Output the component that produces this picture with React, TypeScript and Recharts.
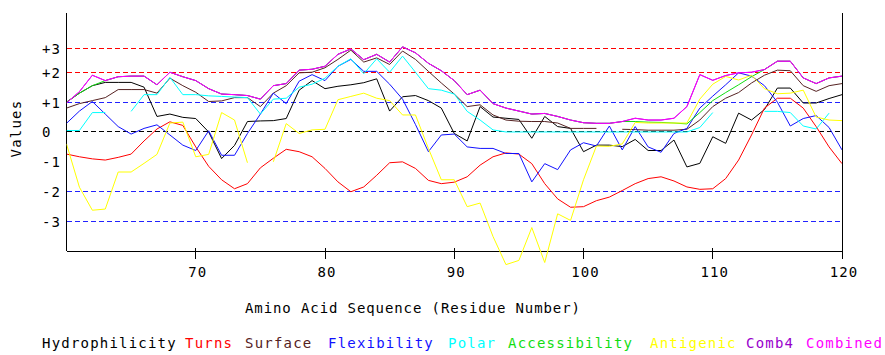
import React from 'react';
import { LineChart, Line, XAxis, YAxis, ReferenceLine } from 'recharts';

const residues = [
  60, 61, 62, 63, 64, 65, 66, 67, 68, 69,
  70, 71, 72, 73, 74, 75, 76, 77, 78, 79,
  80, 81, 82, 83, 84, 85, 86, 87, 88, 89,
  90, 91, 92, 93, 94, 95, 96, 97, 98, 99,
  100, 101, 102, 103, 104, 105, 106, 107, 108, 109,
  110, 111, 112, 113, 114, 115, 116, 117, 118, 119,
  120,
];

const hydrophilicity = [
  1.0, 1.3, 1.55, 1.66, 1.66, 1.66, 1.5, 0.52, 0.6, 0.49,
  0.45, 0.0, -0.89, -0.45, 0.35, 0.37, 0.38, 0.45, 1.4, 1.72,
  1.45, 1.53, 1.58, 1.65, 1.78, 0.7, 1.18, 1.22, 1.05, 0.8,
  -0.05, -0.3, 0.85, 0.5, 0.46, 0.42, -0.21, 0.52, 0.18, 0.12,
  -0.66, -0.44, -0.44, -0.49, -0.25, -0.62, -0.62, -0.27, -1.17, -1.05,
  -0.16, -0.38, 0.63, 0.4, 0.75, 1.47, 1.47, 0.97, 0.97, 1.12,
  1.25,
];

const turns = [
  -0.74, -0.83, -0.9, -0.94, -0.85, -0.74, -0.3, 0.1, 0.34, 0.22,
  -0.5, -1.15, -1.6, -1.9, -1.73, -1.2, -0.88, -0.58, -0.66, -0.83,
  -1.22, -1.67, -2.0, -1.84, -1.45, -1.03, -1.0, -1.22, -1.62, -1.73,
  -1.68, -1.5, -1.11, -0.83, -0.7, -0.74, -1.06, -1.73, -2.24, -2.52,
  -2.5, -2.3, -2.18, -1.96, -1.73, -1.56, -1.5, -1.64, -1.84, -1.92,
  -1.9, -1.56, -0.94, -0.1, 0.8, 1.13, 1.13, 0.8, 0.18, -0.5,
  -1.06,
];

const surface = [
  0.8, 0.95, 1.05, 1.15, 1.42, 1.42, 1.42, 1.3, 1.8, 1.55,
  1.33, 1.02, 1.04, 1.15, 1.15, 0.85, 1.3, 1.55, 1.98, 2.0,
  2.15, 2.43, 2.74, 2.34, 2.48, 2.26, 2.71, 2.43, 2.03, 1.64,
  1.27, 0.85, 0.91, 0.57, 0.4, 0.36, 0.35, 0.35, 0.3, 0.12,
  0.12, 0.12, null, 0.09, 0.08, 0.06, 0.06, 0.06, 0.09, 0.4,
  0.85, 1.13, 1.32, 1.64, 1.9, 2.07, 2.05, 1.55, 1.36, 1.55,
  1.62,
];

const flexibility = [
  0.29, 0.7, 1.02, 0.6, 0.18, -0.07, 0.12, 0.24, -0.1, -0.44,
  -0.62, 0.04, -0.78, -0.78, -0.05, 0.6, 1.3, 0.95, 1.7, 1.92,
  1.72, 2.2, 2.43, 2.03, 2.03, 1.6, 1.1, 0.25, -0.66, -0.1,
  -0.07, -0.5, -0.55, -0.55, -0.72, -0.72, -1.67, -1.06, -1.26, -0.6,
  -0.36, -0.47, 0.2, -0.6, 0.18, -0.5, -0.68, -0.05, 0.12, 0.8,
  1.2, 1.58, 1.98, 1.87, 1.55, 1.0, 0.2, 0.45, 0.55, 0.15,
  -0.6,
];

const polar = [
  0.05, 0.05, 0.65, 0.65, null, 0.69, 1.25, 1.25, 1.83, 1.25,
  1.25, 1.21, 1.19, 1.17, 1.15, 0.6, 1.1, 1.13, 1.5, 1.6,
  1.8, 2.2, 2.45, 1.95, 2.45, 2.0, 2.54, 2.0, 1.45, 1.4,
  1.27, 0.69, 0.4, 0.07, 0.0, 0.0, 0.0, 0.0, 0.0, 0.0,
  0.0, 0.0, 0.0, 0.0, 0.0, 0.0, 0.0, 0.0, 0.0, 0.15,
  0.65, null, null, null, 0.69, 0.69, 0.65, 0.2, 0.1, 0.63,
  null,
];

const accessibility = [
  1.0, 1.3, 1.55, 1.72, 1.85, 1.87, 1.87, 1.58, 2.0, 1.85,
  1.72, 1.45, 1.27, 1.25, 1.22, 1.1, 1.55, 1.62, 2.07, 2.1,
  2.2, 2.6, 2.78, 2.42, 2.6, 2.34, 2.85, 2.65, 2.3, 2.05,
  1.72, 1.25, 1.4, 0.95, 0.8, 0.7, 0.6, 0.62, 0.52, 0.4,
  0.31, 0.29, 0.29, 0.35, 0.35, 0.33, 0.32, 0.3, 0.27, 0.65,
  1.05, 1.32, 1.58, 1.85, 2.09, 2.37, 2.37, 1.81, 1.62, 1.81,
  1.87,
];

const antigenic = [
  -0.4, -1.85, -2.62, -2.58, -1.34, -1.34, -1.05, -0.75, 0.3, 0.33,
  -0.83, -0.75, 0.65, 0.4, -1.03, null, -1.0, 0.28, -0.05, 0.07,
  0.09, 1.08, 1.19, 1.3, 1.13, 1.05, 0.57, 0.57, -0.55, -1.6,
  -1.6, -2.5, -2.38, -3.5, -4.44, -4.3, -3.2, -4.37, -2.74, -2.96,
  -1.6, -0.47, -0.48, -0.4, 0.32, 0.3, 0.3, 0.3, 0.3, 1.1,
  1.6, 1.86, 1.74, 1.9, 1.45, 1.28, 1.3, 1.4, 0.5, 0.4,
  0.38,
];

const combined = [
  0.97, 1.35, 1.9, 1.72, 1.85, 1.87, 1.87, 1.58, 2.0, 1.85,
  1.72, 1.45, 1.27, 1.25, 1.22, 1.1, 1.55, 1.62, 2.07, 2.1,
  2.2, 2.6, 2.78, 2.42, 2.6, 2.34, 2.85, 2.65, 2.3, 2.05,
  1.72, 1.25, 1.4, 0.95, 0.8, 0.7, 0.6, 0.62, 0.52, 0.4,
  0.31, 0.29, 0.29, 0.35, 0.46, 0.4, 0.4, 0.46, 0.85, 1.92,
  1.73, 1.89, 1.98, 2.0, 2.09, 2.37, 2.37, 1.81, 1.62, 1.81,
  1.87,
];

// Comb4 is hidden beneath Combined in the reference
const comb4 = [
  0.97, 1.35, 1.9, 1.72, 1.85, 1.87, 1.87, 1.58, 2.0, 1.85,
  1.72, 1.45, 1.27, 1.25, 1.22, 1.1, 1.55, 1.62, 2.07, 2.1,
  2.2, 2.6, 2.78, 2.42, 2.6, 2.34, 2.85, 2.65, 2.3, 2.05,
  1.72, 1.25, 1.4, 0.95, 0.8, 0.7, 0.6, 0.62, 0.52, 0.4,
  0.31, 0.29, 0.29, 0.35, 0.46, 0.4, 0.4, 0.46, 0.85, 1.92,
  1.73, 1.89, 1.98, 2.0, 2.09, 2.37, 2.37, 1.81, 1.62, 1.81,
  1.87,
];

const xTicks = [70, 80, 90, 100, 110, 120];
const yTickValues = [2.8, 2, 1, 0, -1, -2, -3];
const yTickLabels = ['+3', '+2', '+1', '0', '-1', '-2', '-3'];
const guideValues = [2.8, 2, 1, 0, -2, -3];
const guideColors = ['#ff0000', '#ff0000', '#2222ff', '#000000', '#2222ff', '#2222ff'];

const series = [
  { key: 'hydrophilicity', name: 'Hydrophilicity', color: '#000000', values: hydrophilicity },
  { key: 'turns', name: 'Turns', color: '#ff0000', values: turns },
  { key: 'surface', name: 'Surface', color: '#552222', values: surface },
  { key: 'flexibility', name: 'Flexibility', color: '#1111ff', values: flexibility },
  { key: 'polar', name: 'Polar', color: '#00ffff', values: polar },
  { key: 'accessibility', name: 'Accessibility', color: '#11dd11', values: accessibility },
  { key: 'antigenic', name: 'Antigenic', color: '#ffff00', values: antigenic },
  { key: 'comb4', name: 'Comb4', color: '#9900cc', values: comb4 },
  { key: 'combined', name: 'Combined', color: '#ff00ff', values: combined },
];

const legendX = [42, 185, 245, 328, 448, 508, 650, 746, 806];

const data = residues.map((r, i) => {
  const row: Record<string, number | null> = { r };
  series.forEach((s) => {
    row[s.key] = s.values[i];
  });
  return row;
});

const FONT = '"DejaVu Sans Mono", monospace';
const W = 885;
const H = 355;
const X_DOMAIN: [number, number] = [60, 120];
const Y_DOMAIN: [number, number] = [-4.5, 4];

const YTick = (props: any) => {
  const { y, payload } = props;
  const idx = yTickValues.indexOf(payload.value);
  return (
    <text x={42} y={y} dy={5.5} fontFamily={FONT} fontSize={14} letterSpacing={1} fill="#000">
      {yTickLabels[idx]}
    </text>
  );
};

const XTick = (props: any) => {
  const { x, y, payload } = props;
  return (
    <text x={x + 2} y={y} dy={10} textAnchor="middle" fontFamily={FONT} fontSize={14} letterSpacing={1} fill="#000">
      {payload.value}
    </text>
  );
};

const layer: React.CSSProperties = { position: 'absolute', left: 0, top: 0 };

export default function App() {
  return (
    <div style={{ position: 'absolute', left: 0, top: 0, width: W, height: H, background: '#fff' }}>
      {/* Underlay: axes, ticks and dashed guide lines */}
      <div style={layer}>
        <LineChart
          width={W}
          height={H}
          data={data}
          margin={{ top: 12.5, right: 43, left: 0, bottom: 58.6 }}
        >
          <XAxis
            dataKey="r"
            type="number"
            domain={X_DOMAIN}
            ticks={xTicks}
            axisLine={false}
            tickLine={false}
            tickSize={0}
            tickMargin={1}
            height={30}
            tick={<XTick />}
            allowDataOverflow
          />
          <YAxis
            type="number"
            domain={Y_DOMAIN}
            ticks={yTickValues}
            axisLine={false}
            tickLine={false}
            width={66.5}
            tick={<YTick />}
            allowDataOverflow
            interval={0}
          />
          {guideValues.map((v, i) => (
            <ReferenceLine
              key={'g' + i}
              y={v}
              stroke={guideColors[i]}
              strokeDasharray="5 3"
              shapeRendering="crispEdges"
            />
          ))}
          <ReferenceLine
            segment={[{ x: 60, y: -4 }, { x: 120, y: -4 }]}
            stroke="#000"
            shapeRendering="crispEdges"
          />
          <ReferenceLine
            segment={[{ x: 60, y: -4 }, { x: 60, y: 4 }]}
            stroke="#000"
            shapeRendering="crispEdges"
          />
          <ReferenceLine
            segment={[{ x: 120, y: -4.24 }, { x: 120, y: 4 }]}
            stroke="#000"
            shapeRendering="crispEdges"
          />
          {xTicks.map((t) => (
            <ReferenceLine
              key={'t' + t}
              segment={[{ x: t, y: -3.87 }, { x: t, y: -4.24 }]}
              stroke="#000"
              shapeRendering="crispEdges"
            />
          ))}
        </LineChart>
      </div>
      {/* Overlay: the data series, on the same scales */}
      <div style={layer}>
        <LineChart
          width={W}
          height={H}
          data={data}
          margin={{ top: 12.5, right: 43, left: 66.5, bottom: 88.6 }}
        >
          <XAxis dataKey="r" type="number" domain={X_DOMAIN} hide allowDataOverflow />
          <YAxis type="number" domain={Y_DOMAIN} hide allowDataOverflow />
          {series.map((s) => (
            <Line
              key={s.key}
              dataKey={s.key}
              name={s.name}
              stroke={s.color}
              strokeWidth={1}
              dot={false}
              activeDot={false}
              type="linear"
              isAnimationActive={false}
              connectNulls={false}
            />
          ))}
        </LineChart>
      </div>
      <svg width={W} height={H} style={{ ...layer, pointerEvents: 'none' }}>
        <text
          x={20.5}
          y={128.5}
          transform="rotate(-90 20.5 128.5)"
          textAnchor="middle"
          fontFamily={FONT}
          fontSize={14}
          letterSpacing={1.2}
          fill="#000"
        >
          Values
        </text>
        <text x={245} y={313} fontFamily={FONT} fontSize={14} letterSpacing={0.9} fill="#000">
          Amino Acid Sequence (Residue Number)
        </text>
        {series.map((s, i) => (
          <text
            key={s.key}
            x={legendX[i]}
            y={348}
            fontFamily={FONT}
            fontSize={14}
            letterSpacing={1.2}
            fill={s.color}
          >
            {s.name}
          </text>
        ))}
      </svg>
    </div>
  );
}
